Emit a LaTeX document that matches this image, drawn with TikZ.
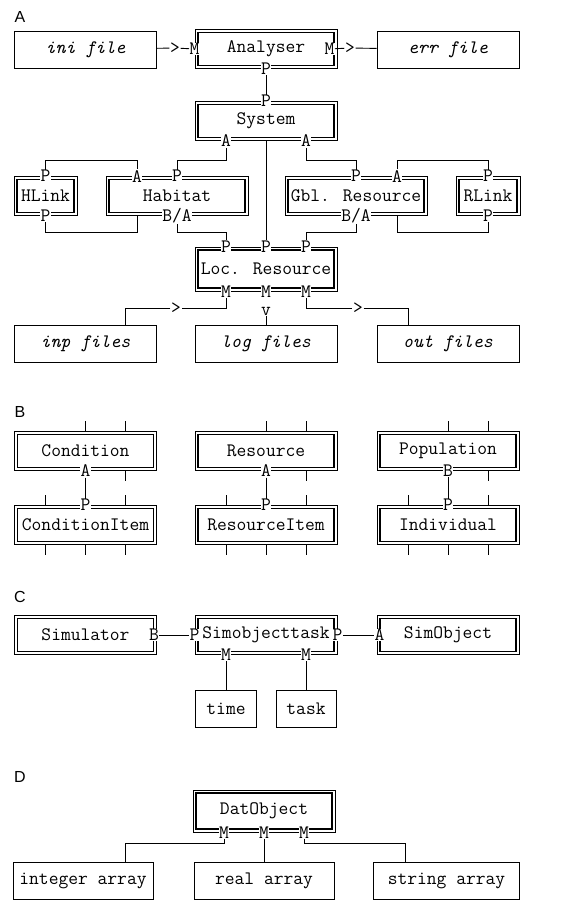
\documentclass[tikz,border=0pt]{standalone}
\usepackage{fontspec}
\setsansfont{Liberation Sans}
\usetikzlibrary{positioning}

\tikzset{
  every node/.style={font=\ttfamily\fontsize{19}{21}\selectfont},
  filebox/.style={draw, line width=0.9pt, minimum width=142pt, minimum height=37pt,
    inner xsep=2pt, font=\ttfamily\itshape\fontsize{19}{21}\selectfont},
  plainbox/.style={draw, line width=0.9pt, minimum height=37pt, inner xsep=2pt},
  objbox/.style={draw, line width=0.8pt, minimum width=142pt, minimum height=39pt,
    inner xsep=2pt,
    path picture={\draw[line width=1.2pt]
      ([shift={(3pt,3pt)}]path picture bounding box.south west) rectangle
      ([shift={(-3pt,-3pt)}]path picture bounding box.north east);}},
  port/.style={fill=white, inner sep=0.5pt},
  tip/.style={inner sep=0.5pt},
  panel/.style={font=\sffamily\fontsize{16}{18}\selectfont},
  link/.style={line width=0.9pt},
}

\begin{document}
\begin{tikzpicture}[x=1pt, y=-1pt]
  \useasboundingbox (0,0) rectangle (565,902);

  % A
  \node[panel] (labA) at (20,17) {A};
  \node[filebox] (ini) at (85.5,49.5) {ini file};
  \node[objbox] (analyser) at (266,49) {Analyser};
  \node[filebox] (err) at (448,49.5) {err file};
  \node[objbox] (system) at (266,121) {System};
  \node[objbox, minimum width=63pt] (hlink) at (45.5,196) {HLink};
  \node[objbox] (habitat) at (177,196) {Habitat};
  \node[objbox] (gblres) at (356,196) {Gbl. Resource};
  \node[objbox, minimum width=64pt] (rlink) at (488,196) {RLink};
  \node[objbox, minimum height=44pt] (locres) at (266,269) {Loc. Resource};
  \node[filebox] (inp) at (85.5,344) {inp files};
  \node[filebox] (logf) at (266,344) {log files};
  \node[filebox] (outf) at (448,344) {out files};

  \node[port] (anMl) at (analyser.west) {M};
  \node[port] (anMr) at ([xshift=-8pt]analyser.east) {M};
  \node[port] (anP) at (analyser.south) {P};
  \node[port] (syP) at (system.north) {P};
  \node[port] (syAl) at ([xshift=-40pt]system.south) {A};
  \node[port] (syAr) at ([xshift=40pt]system.south) {A};
  \node[port] (hlPt) at (hlink.north) {P};
  \node[port] (hlPb) at (hlink.south) {P};
  \node[port] (haA) at ([xshift=-40pt]habitat.north) {A};
  \node[port] (haP) at (habitat.north) {P};
  \node[port] (haBA) at (habitat.south) {B/A};
  \node[port] (gbP) at (gblres.north) {P};
  \node[port] (gbA) at ([xshift=41pt]gblres.north) {A};
  \node[port] (gbBA) at (gblres.south) {B/A};
  \node[port] (rlPt) at (rlink.north) {P};
  \node[port] (rlPb) at (rlink.south) {P};
  \node[port] (locPl) at ([xshift=-40pt]locres.north) {P};
  \node[port] (locPm) at (locres.north) {P};
  \node[port] (locPr) at ([xshift=40pt]locres.north) {P};
  \node[port] (locMl) at ([xshift=-40pt]locres.south) {M};
  \node[port] (locMm) at (locres.south) {M};
  \node[port] (locMr) at ([xshift=40pt]locres.south) {M};

  \node[tip] (tipIn) at (175,48) {>};
  \node[tip] (tipErr) at (350,48) {>};
  \node[tip] (tipInp) at (176,308) {>};
  \node[tip] (tipLog) at (266,311) {v};
  \node[tip] (tipOut) at (358,308) {>};

  \coordinate (topbus) at (0,160);
  \coordinate (botbus) at (0,232);
  \coordinate (haFoot) at ([xshift=-40pt]habitat.south);
  \coordinate (gbFoot) at ([xshift=41pt]gblres.south);
  \coordinate (inpTop) at ([xshift=40pt]inp.north);
  \coordinate (outTop) at ([xshift=-40pt]outf.north);

  \begin{scope}[link]
    \draw (ini) -- (tipIn) -- (anMl);
    \draw (anMr) -- (tipErr) -- (err);
    \draw (anP) -- (syP);
    \draw (system) -- (locPm);
    \draw (hlPt) |- (topbus -| haA) -- (haA);
    \draw (haP) |- (topbus -| syAl) -- (syAl);
    \draw (gbP) |- (topbus -| syAr) -- (syAr);
    \draw (gbA) |- (topbus -| rlPt) -- (rlPt);
    \draw (hlPb) |- (botbus -| haFoot) -- (haFoot);
    \draw (haBA) |- (botbus -| locPl) -- (locPl);
    \draw (gbBA) |- (botbus -| locPr) -- (locPr);
    \draw (rlPb) |- (botbus -| gbFoot) -- (gbFoot);
    \draw (locMl) |- (tipInp) -| (inpTop);
    \draw (tipLog) -- (logf);
    \draw (locMr) |- (tipOut) -| (outTop);
  \end{scope}

  % B
  \node[panel] (labB) at (20,412) {B};
  \node[objbox] (cond) at (85.5,451) {Condition};
  \node[objbox] (res) at (266,451) {Resource};
  \node[objbox] (pop) at (448,451) {Population};
  \node[objbox] (condit) at (85.5,525) {ConditionItem};
  \node[objbox] (resit) at (266,525) {ResourceItem};
  \node[objbox] (indiv) at (448,525) {Individual};

  \node[port] (coA) at (cond.south) {A};
  \node[port] (reA) at (res.south) {A};
  \node[port] (poB) at (pop.south) {B};
  \node[port] (ciP) at (condit.north) {P};
  \node[port] (riP) at (resit.north) {P};
  \node[port] (inP) at (indiv.north) {P};

  \begin{scope}[link]
    \draw (coA) -- (ciP);
    \draw (reA) -- (riP);
    \draw (poB) -- (inP);
    \draw (cond.north) -- ++(0,-10);
    \draw ([xshift=40pt]cond.north) -- ++(0,-10);
    \draw ([xshift=40pt]cond.south) -- ++(0,10);
    \draw ([xshift=-40pt]condit.north) -- ++(0,-10);
    \draw ([xshift=40pt]condit.north) -- ++(0,-10);
    \draw ([xshift=-40pt]condit.south) -- ++(0,10);
    \draw (condit.south) -- ++(0,10);
    \draw ([xshift=40pt]condit.south) -- ++(0,10);
    \draw (res.north) -- ++(0,-10);
    \draw ([xshift=40pt]res.north) -- ++(0,-10);
    \draw ([xshift=40pt]res.south) -- ++(0,10);
    \draw ([xshift=-40pt]resit.north) -- ++(0,-10);
    \draw ([xshift=40pt]resit.north) -- ++(0,-10);
    \draw ([xshift=-40pt]resit.south) -- ++(0,10);
    \draw (resit.south) -- ++(0,10);
    \draw ([xshift=40pt]resit.south) -- ++(0,10);
    \draw (pop.north) -- ++(0,-10);
    \draw ([xshift=40pt]pop.north) -- ++(0,-10);
    \draw ([xshift=40pt]pop.south) -- ++(0,10);
    \draw ([xshift=-40pt]indiv.north) -- ++(0,-10);
    \draw ([xshift=40pt]indiv.north) -- ++(0,-10);
    \draw ([xshift=-40pt]indiv.south) -- ++(0,10);
    \draw (indiv.south) -- ++(0,10);
    \draw ([xshift=40pt]indiv.south) -- ++(0,10);
  \end{scope}

  % C
  \node[panel] (labC) at (20,597) {C};
  \node[objbox] (simu) at (85.5,635) {Simulator};
  \node[objbox] (stask) at (266,635) {Simobjecttask};
  \node[objbox] (sobj) at (448,635) {SimObject};
  \node[port] (siB) at ([xshift=-3pt]simu.east) {B};
  \node[port] (stPl) at (stask.west) {P};
  \node[port] (stPr) at (stask.east) {P};
  \node[port] (soA) at ([xshift=3pt]sobj.west) {A};
  \node[port] (stMl) at ([xshift=-40pt]stask.south) {M};
  \node[port] (stMr) at ([xshift=40pt]stask.south) {M};
  \node[plainbox, minimum width=61pt] (timebox) at (226,708.5) {time};
  \node[plainbox, minimum width=60pt] (taskbox) at (306,708.5) {task};

  \begin{scope}[link]
    \draw (siB) -- (stPl);
    \draw (stPr) -- (soA);
    \draw (stMl) -- (timebox);
    \draw (stMr) -- (taskbox);
  \end{scope}

  % D
  \node[panel] (labD) at (20,777) {D};
  \node[objbox, minimum height=42pt] (datobj) at (264,811) {DatObject};
  \node[port] (daMl) at ([xshift=-40pt]datobj.south) {M};
  \node[port] (daMm) at (datobj.south) {M};
  \node[port] (daMr) at ([xshift=40pt]datobj.south) {M};
  \node[plainbox, minimum width=140pt] (intarr) at (83,881) {integer array};
  \node[plainbox, minimum width=140pt] (realarr) at (264,881) {real array};
  \node[plainbox, minimum width=146pt] (strarr) at (446.5,881) {string array};

  \coordinate (dabus) at (0,843);
  \coordinate (intTop) at ([xshift=42pt]intarr.north);
  \coordinate (strTop) at ([xshift=-41pt]strarr.north);

  \begin{scope}[link]
    \draw (daMl) |- (dabus -| intTop) -- (intTop);
    \draw (daMm) -- (realarr);
    \draw (daMr) |- (dabus -| strTop) -- (strTop);
  \end{scope}
\end{tikzpicture}
\end{document}
